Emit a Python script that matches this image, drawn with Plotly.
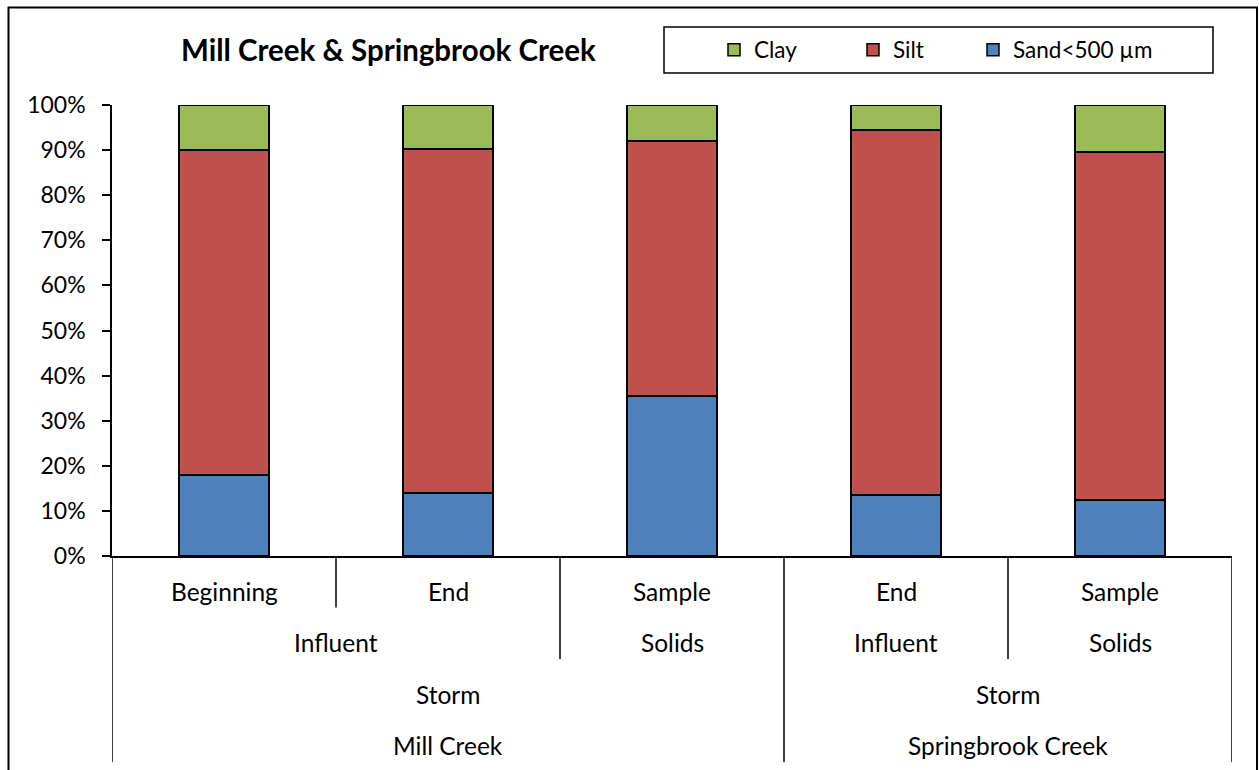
import plotly.graph_objects as go

# Category hierarchy, innermost level first
level1 = ["Beginning", "End", "Sample", "End", "Sample"]
level2 = ["Influent", "Influent", "Solids", "Influent", "Solids"]
level3 = ["Storm", "Storm", "Storm", "Storm", "Storm"]
level4 = ["Mill Creek", "Mill Creek", "Mill Creek", "Springbrook Creek", "Springbrook Creek"]

# Particle size fractions (%)
sand = [18.0, 14.0, 35.5, 13.5, 12.4]
silt = [72.0, 76.3, 56.5, 81.0, 77.2]
clay = [10.0, 9.7, 8.0, 5.5, 10.4]

series_names = ["Sand<500 µm", "Silt", "Clay"]
series_colors = ["#4F81BD", "#C0504D", "#9BBB59"]
legend_left_px = [973, 853, 714]   # left edge of each legend entry

FONT = "Lato"
W, H = 1259, 770
L, R, T, B = 112, 27, 105, 214
plot_w, plot_h = W - L - R, H - T - B

def px_x(p):
    return (p - L) / plot_w

def px_y(p):
    return (H - B - p) / plot_h

idx = list(range(len(level1)))
fig = go.Figure()
legend_layouts = {}
for j, (name, vals, col) in enumerate(zip(series_names, [sand, silt, clay], series_colors)):
    lg = "legend" if j == 0 else f"legend{j + 1}"
    fig.add_trace(go.Bar(
        x=idx, y=vals, name=name, width=0.4, legend=lg,
        marker=dict(color=col, line=dict(color="black", width=1.5)),
    ))
    legend_layouts[lg] = dict(
        orientation="h", x=px_x(legend_left_px[j]), y=px_y(50),
        xanchor="left", yanchor="middle", xref="paper", yref="paper",
        bgcolor="rgba(0,0,0,0)", borderwidth=0,
        font=dict(family=FONT, size=22.5, color="black"),
    )

levels = [level1, level2, level3, level4]
n = len(level1)
row_h = 51.5 / plot_h
label_off = 35 / plot_h

def key(k, i):
    return tuple(levels[j][i] for j in range(k, len(levels)))

shapes = []
annotations = []

# group labels for every level
for k in range(len(levels)):
    start = 0
    for i in range(1, n + 1):
        if i == n or key(k, i) != key(k, start):
            annotations.append(dict(
                x=(start + i - 1) / 2, y=-(k * row_h + label_off),
                xref="x", yref="paper", text=levels[k][start],
                showarrow=False, xanchor="center", yanchor="middle",
                font=dict(family=FONT, size=24.5, color="black"),
            ))
            start = i

# vertical separators between categories
def sep(xpos, depth):
    shapes.append(dict(
        type="line", xref="x", yref="paper", x0=xpos, x1=xpos,
        y0=0, y1=-depth * row_h, line=dict(color="black", width=1.5),
    ))

sep(-0.5, len(levels))
sep(n - 0.5, len(levels))
for i in range(n - 1):
    depth = max(k + 1 for k in range(len(levels)) if key(k, i) != key(k, i + 1))
    sep(i + 0.5, depth)

# outer chart border
shapes.append(dict(
    type="rect", xref="paper", yref="paper",
    x0=px_x(8.5), x1=px_x(1257), y0=px_y(790), y1=px_y(7.5),
    line=dict(color="black", width=2), fillcolor="rgba(0,0,0,0)",
))
# legend frame
shapes.append(dict(
    type="rect", xref="paper", yref="paper",
    x0=px_x(664), x1=px_x(1213), y0=px_y(73), y1=px_y(27),
    line=dict(color="black", width=1.5), fillcolor="rgba(0,0,0,0)",
))

annotations.append(dict(
    x=px_x(388.5), y=px_y(50), xref="paper", yref="paper",
    text="<b>Mill Creek &amp; Springbrook Creek</b>", showarrow=False,
    xanchor="center", yanchor="middle",
    font=dict(family=FONT, size=29.5, color="black"),
))

fig.update_layout(
    width=W, height=H,
    margin=dict(l=L, r=R, t=T, b=B, pad=0),
    barmode="stack",
    paper_bgcolor="white", plot_bgcolor="white",
    font=dict(family=FONT, size=22, color="black"),
    showlegend=True,
    xaxis=dict(
        range=[-0.5, n - 0.5], showticklabels=False, ticks="",
        showline=True, linecolor="black", linewidth=1.5,
        showgrid=False, zeroline=False, fixedrange=True,
    ),
    yaxis=dict(
        range=[0, 100], dtick=10, ticksuffix="%",
        ticks="outside", ticklen=8, tickwidth=1.5, tickcolor="black",
        showline=True, linecolor="black", linewidth=1.5,
        showgrid=False, zeroline=False, ticklabelstandoff=12,
        tickfont=dict(family=FONT, size=23, color="black"),
    ),
    shapes=shapes,
    annotations=annotations,
    **legend_layouts,
)

fig.write_html("out.html")
